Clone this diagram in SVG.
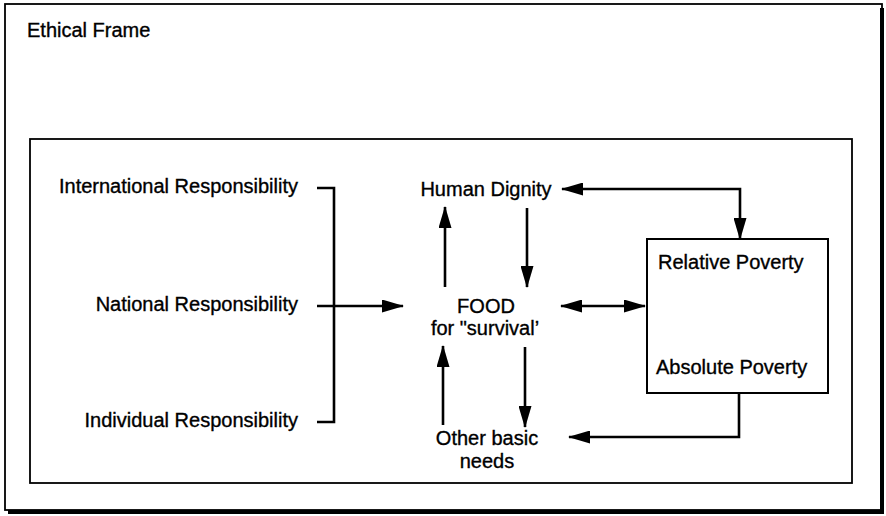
<svg xmlns="http://www.w3.org/2000/svg" width="886" height="516" viewBox="0 0 886 516">
<defs>
<style>
text{font-family:"Liberation Sans",Arial,Helvetica,sans-serif;font-size:20px;fill:#000;stroke:#000;stroke-width:0.35;}
.frame{fill:none;stroke:#000;stroke-width:1.8;}
.box{fill:#fff;stroke:#000;stroke-width:2;}
.conn{fill:none;stroke:#000;stroke-width:2.6;}
</style>
<marker id="ah" markerUnits="userSpaceOnUse" markerWidth="22" markerHeight="13" refX="21" refY="6.5" orient="auto-start-reverse">
<path d="M0,0 L22,6.5 L0,13 z" fill="#000"/>
</marker>
</defs>
<rect width="886" height="516" fill="#fff"/>
<g id="outer-frame">
<rect class="frame" x="5" y="4" width="877" height="506"/>
<path d="M882,8 V512 H8" fill="none" stroke="#000" stroke-width="4"/>
<text x="27" y="37">Ethical Frame</text>
</g>
<g id="inner-frame">
<rect class="frame" x="30" y="139" width="822" height="344"/>
</g>
<g id="international"><text x="298" y="193" text-anchor="end">International Responsibility</text></g>
<g id="national"><text x="298" y="311" text-anchor="end">National Responsibility</text></g>
<g id="individual"><text x="298" y="427" text-anchor="end">Individual Responsibility</text></g>
<g id="human-dignity"><text x="486" y="196" text-anchor="middle">Human Dignity</text></g>
<g id="food">
<text x="486" y="313" text-anchor="middle">FOOD</text>
<text x="485" y="335" text-anchor="middle">for "survival’</text>
</g>
<g id="other-needs">
<text x="487" y="445" text-anchor="middle">Other basic</text>
<text x="487" y="468" text-anchor="middle">needs</text>
</g>
<g id="poverty">
<rect class="box" x="647" y="239" width="181" height="154"/>
<text x="658" y="269">Relative Poverty</text>
<text x="656" y="374">Absolute Poverty</text>
</g>
<g id="connectors">
<path class="conn" d="M317,188 H334 V422 H317"/>
<path class="conn" d="M317,306 H403" marker-end="url(#ah)"/>
<path class="conn" d="M445,287 V207" marker-end="url(#ah)"/>
<path class="conn" d="M527,208 V287" marker-end="url(#ah)"/>
<path class="conn" d="M443,425 V346" marker-end="url(#ah)"/>
<path class="conn" d="M525,347 V427" marker-end="url(#ah)"/>
<path class="conn" d="M561,306 H645" marker-start="url(#ah)" marker-end="url(#ah)"/>
<path class="conn" d="M562,189 H740 V239" marker-start="url(#ah)" marker-end="url(#ah)"/>
<path class="conn" d="M739,393 V437 H569" marker-end="url(#ah)"/>
</g>
</svg>
